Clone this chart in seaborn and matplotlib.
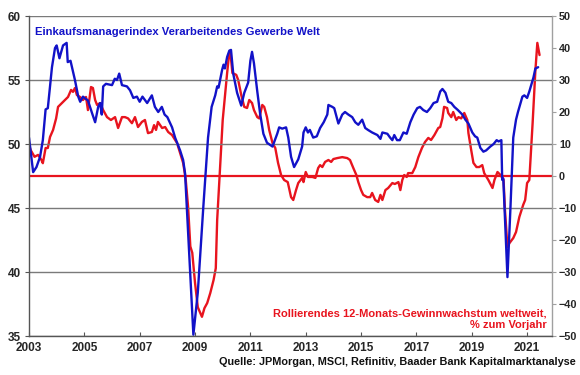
import matplotlib
matplotlib.use("Agg")
import matplotlib.pyplot as plt
import seaborn as sns
import pandas as pd

# --- data -------------------------------------------------------------------
pmi_years = [2003.00, 2003.15, 2003.27, 2003.40, 2003.50, 2003.60, 2003.68, 2003.83, 2003.94, 2004.00,
             2004.10, 2004.23, 2004.36, 2004.40, 2004.50, 2004.66, 2004.78, 2004.85, 2004.95, 2005.13,
             2005.28, 2005.39, 2005.50, 2005.57, 2005.63, 2005.68, 2005.78, 2006.00, 2006.10, 2006.18,
             2006.26, 2006.36, 2006.54, 2006.65, 2006.77, 2006.90, 2007.00, 2007.10, 2007.27, 2007.44,
             2007.55, 2007.67, 2007.80, 2007.90, 2008.00, 2008.17, 2008.28, 2008.46, 2008.57, 2008.64,
             2008.94, 2009.10, 2009.30, 2009.47, 2009.60, 2009.73, 2009.80, 2009.85, 2009.98, 2010.03,
             2010.08, 2010.16, 2010.24, 2010.30, 2010.38, 2010.52, 2010.67, 2010.78, 2010.92, 2011.00,
             2011.06, 2011.13, 2011.25, 2011.35, 2011.47, 2011.60, 2011.80, 2011.97, 2012.04, 2012.15,
             2012.29, 2012.37, 2012.47, 2012.58, 2012.73, 2012.87, 2012.92, 2013.00, 2013.08, 2013.15,
             2013.27, 2013.40, 2013.52, 2013.65, 2013.78, 2013.82, 2013.96, 2014.03, 2014.18, 2014.32,
             2014.42, 2014.54, 2014.68, 2014.79, 2014.90, 2015.04, 2015.15, 2015.25, 2015.40, 2015.59,
             2015.70, 2015.77, 2015.95, 2016.05, 2016.13, 2016.20, 2016.30, 2016.40, 2016.53, 2016.65,
             2016.78, 2016.90, 2017.03, 2017.13, 2017.25, 2017.38, 2017.50, 2017.62, 2017.75, 2017.86,
             2017.94, 2018.05, 2018.15, 2018.26, 2018.37, 2018.50, 2018.66, 2018.77, 2018.88, 2019.02,
             2019.12, 2019.20, 2019.31, 2019.42, 2019.52, 2019.67, 2019.79, 2019.90, 2019.97, 2020.07,
             2020.10, 2020.14, 2020.29, 2020.40, 2020.50, 2020.60, 2020.67, 2020.83, 2020.90, 2021.00,
             2021.08, 2021.23, 2021.30, 2021.40]
pmi_values = [50.5, 47.8, 48.2, 49.0, 50.3, 52.7, 52.8, 56.0, 57.5, 57.7,
              56.7, 57.7, 57.9, 56.4, 56.5, 55.0, 53.7, 53.3, 53.7, 53.4,
              52.4, 51.7, 52.9, 53.2, 52.3, 54.5, 54.7, 54.6, 55.1, 55.0,
              55.5, 54.6, 54.5, 54.2, 53.6, 53.7, 53.3, 53.7, 53.2, 53.8,
              52.9, 52.5, 52.9, 52.3, 52.1, 51.3, 50.5, 49.5, 48.75, 47.7,
              35.1, 38.4, 45.1, 50.5, 52.9, 53.8, 54.5, 54.4, 55.8, 56.2,
              55.9, 56.8, 57.3, 57.35, 55.5, 54.0, 53.0, 54.0, 54.8, 56.5,
              57.2, 56.3, 54.1, 52.4, 50.8, 50.1, 49.8, 50.8, 51.3, 51.2,
              51.3, 50.5, 49.0, 48.2, 48.8, 49.8, 50.9, 51.3, 50.9, 51.1,
              50.5, 50.6, 51.25, 51.7, 52.3, 53.05, 52.9, 52.8, 51.6, 52.3,
              52.5, 52.3, 52.1, 51.7, 51.5, 51.9, 51.25, 51.1, 50.9, 50.7,
              50.4, 50.9, 50.8, 50.5, 50.3, 50.7, 50.3, 50.3, 50.9, 50.8,
              51.7, 52.3, 52.8, 52.9, 52.65, 52.5, 52.8, 53.2, 53.3, 54.1,
              54.3, 54.0, 53.3, 53.2, 52.9, 52.65, 52.3, 51.9, 51.6, 50.9,
              50.6, 50.5, 49.7, 49.4, 49.5, 49.8, 50.0, 50.3, 50.2, 50.3,
              47.2, 47.3, 39.6, 45.1, 50.5, 51.9, 52.5, 53.7, 53.8, 53.6,
              54.1, 55.2, 55.9, 56.0]

eps_years = [2003.00, 2003.06, 2003.20, 2003.33, 2003.45, 2003.50, 2003.60, 2003.68, 2003.76, 2003.87,
             2003.98, 2004.05, 2004.19, 2004.30, 2004.41, 2004.52, 2004.59, 2004.66, 2004.73, 2004.84,
             2004.95, 2005.06, 2005.13, 2005.24, 2005.31, 2005.39, 2005.46, 2005.57, 2005.68, 2005.82,
             2005.96, 2006.11, 2006.22, 2006.36, 2006.47, 2006.58, 2006.72, 2006.83, 2006.94, 2007.08,
             2007.19, 2007.30, 2007.44, 2007.52, 2007.59, 2007.66, 2007.81, 2007.92, 2008.03, 2008.17,
             2008.35, 2008.46, 2008.57, 2008.66, 2008.75, 2008.83, 2008.90, 2009.00, 2009.10, 2009.25,
             2009.34, 2009.44, 2009.55, 2009.67, 2009.75, 2009.80, 2009.90, 2010.00, 2010.16, 2010.24,
             2010.28, 2010.35, 2010.49, 2010.56, 2010.67, 2010.78, 2010.88, 2010.96, 2011.06, 2011.13,
             2011.25, 2011.32, 2011.43, 2011.50, 2011.60, 2011.68, 2011.80, 2011.90, 2012.00, 2012.11,
             2012.22, 2012.35, 2012.47, 2012.55, 2012.65, 2012.73, 2012.87, 2012.92, 2013.00, 2013.08,
             2013.24, 2013.35, 2013.45, 2013.52, 2013.60, 2013.70, 2013.82, 2013.92, 2014.00, 2014.14,
             2014.32, 2014.50, 2014.60, 2014.72, 2014.83, 2014.90, 2015.00, 2015.08, 2015.22, 2015.33,
             2015.40, 2015.51, 2015.62, 2015.70, 2015.77, 2015.88, 2015.98, 2016.13, 2016.22, 2016.35,
             2016.42, 2016.49, 2016.56, 2016.65, 2016.70, 2016.85, 2016.96, 2017.07, 2017.20, 2017.31,
             2017.43, 2017.53, 2017.65, 2017.79, 2017.86, 2017.94, 2018.00, 2018.11, 2018.15, 2018.26,
             2018.33, 2018.44, 2018.52, 2018.62, 2018.73, 2018.84, 2018.88, 2018.98, 2019.06, 2019.17,
             2019.27, 2019.38, 2019.45, 2019.60, 2019.75, 2019.82, 2019.93, 2020.04, 2020.15, 2020.20,
             2020.29, 2020.36, 2020.50, 2020.60, 2020.72, 2020.86, 2020.93, 2021.00, 2021.08, 2021.20,
             2021.30, 2021.37, 2021.45]
eps_values = [9.7, 8.1, 6.0, 6.6, 5.0, 4.0, 8.75, 8.75, 12.2, 14.4,
              18.0, 21.6, 22.8, 23.75, 24.7, 26.9, 26.3, 27.5, 25.3, 24.7,
              23.75, 24.7, 20.6, 27.8, 27.5, 23.75, 22.2, 22.8, 20.6, 18.4,
              17.5, 18.4, 15.0, 18.4, 18.4, 18.0, 16.5, 18.4, 15.3, 16.9,
              17.5, 13.4, 13.75, 15.9, 14.4, 16.9, 15.0, 15.3, 13.75, 12.8,
              10.3, 7.2, 4.1, -0.8, -9.7, -22.0, -24.0, -33.4, -41.0, -44.0,
              -41.3, -39.7, -36.6, -32.5, -28.8, -13.75, 1.9, 17.5, 32.2, 38.75,
              38.4, 32.2, 31.6, 30.0, 25.3, 21.6, 21.25, 23.75, 22.8, 20.6,
              18.4, 18.0, 22.2, 21.6, 18.4, 14.4, 10.3, 8.75, 4.1, 0.3,
              -1.25, -1.9, -6.6, -7.5, -4.4, -2.2, -0.6, -1.9, 1.25, -0.3,
              -0.3, -0.6, 2.5, 3.4, 2.8, 4.4, 5.0, 4.4, 5.3, 5.6,
              5.9, 5.6, 5.0, 2.5, 0.3, -1.9, -4.4, -5.9, -6.6, -6.6,
              -5.3, -7.5, -8.1, -5.9, -7.5, -4.4, -3.75, -2.2, -2.5, -1.9,
              -4.4, -1.25, 0.3, -0.3, 0.9, 0.9, 2.8, 5.9, 8.75, 10.6,
              11.9, 11.25, 12.8, 15.0, 15.3, 18.0, 21.6, 21.25, 19.7, 18.4,
              20.0, 17.5, 18.4, 18.0, 19.7, 17.5, 13.4, 8.1, 4.1, 2.8,
              2.8, 3.4, 0.9, -1.25, -3.75, -1.25, 1.25, 0.3, -1.25, -10.6,
              -22.2, -21.0, -19.4, -17.5, -12.8, -9.0, -7.5, -2.2, -1.25, 16.6,
              33.0, 41.6, 37.8]

year_ticks = [2003, 2005, 2007, 2009, 2011, 2013, 2015, 2017, 2019, 2021]
left_ticks = [35, 40, 45, 50, 55, 60]
right_ticks = [-50, -40, -30, -20, -10, 0, 10, 20, 30, 40, 50]

title_text = "Einkaufsmanagerindex Verarbeitendes Gewerbe Welt"
eps_text = "Rollierendes 12-Monats-Gewinnwachstum weltweit,\n% zum Vorjahr"
source_text = "Quelle: JPMorgan, MSCI, Refinitiv, Baader Bank Kapitalmarktanalyse"

# --- styling -----------------------------------------------------------------
sns.set_style("white")
plt.rcParams["font.family"] = ["Liberation Sans", "DejaVu Sans"]
plt.rcParams["font.weight"] = "bold"

BLUE = "#1212c8"
RED = "#e8141e"
GRID = "#7a7a7a"

pmi_df = pd.DataFrame({"year": pmi_years, "pmi": pmi_values})
eps_df = pd.DataFrame({"year": eps_years, "eps": eps_values})

fig = plt.figure(figsize=(5.8, 3.75), dpi=100)
ax = fig.add_axes([29 / 580, 39 / 375, (552 - 29) / 580, (336 - 16) / 375])
ax2 = ax.twinx()

# left axis: PMI
ax.set_ylim(35, 60)
ax.set_xlim(2003, 2021.9)
ax.set_yticks(left_ticks)
ax.set_xticks(year_ticks)
ax.yaxis.grid(True, color=GRID, lw=1.0)
ax.set_axisbelow(True)

# right axis: earnings growth
ax2.set_ylim(-50, 50)
ax2.set_yticks(right_ticks)
ax2.axhline(0, color=RED, lw=1.6, zorder=1)
sns.lineplot(data=eps_df, x="year", y="eps", ax=ax2, color=RED, lw=1.7,
             estimator=None, sort=False, zorder=2)
sns.lineplot(data=pmi_df, x="year", y="pmi", ax=ax, color=BLUE, lw=1.7,
             estimator=None, sort=False)
# put the PMI line on top of the right axis content
ax.set_zorder(ax2.get_zorder() + 1)
ax.patch.set_visible(False)

for a in (ax, ax2):
    a.set_xlabel("")
    a.set_ylabel("")
    for s in a.spines.values():
        s.set_visible(False)

ax.spines["left"].set_visible(True)
ax.spines["left"].set_color("#555555")
ax.spines["left"].set_linewidth(1.0)
ax.spines["bottom"].set_visible(True)
ax.spines["bottom"].set_color("#555555")
ax.spines["bottom"].set_linewidth(1.0)
ax2.spines["right"].set_visible(True)
ax2.spines["right"].set_color("#a0a0a0")
ax2.spines["right"].set_linewidth(1.0)

ax.tick_params(axis="y", left=True, length=3, color="#555555", labelsize=8.5, pad=3)
ax.tick_params(axis="x", bottom=True, direction="in", length=3, color="#555555",
               labelsize=8.5, pad=4)
ax2.tick_params(axis="y", right=True, length=3, color="#a0a0a0", labelsize=7.8, pad=2)
for lab in ax.get_xticklabels() + ax.get_yticklabels() + ax2.get_yticklabels():
    lab.set_fontweight("bold")

ax.text(0.012, 0.965, title_text, transform=ax.transAxes, color=BLUE,
        fontsize=8.1, fontweight="bold", ha="left", va="top")
ax.text(0.99, 0.02, eps_text, transform=ax.transAxes, color=RED,
        fontsize=8.0, fontweight="bold", ha="right", va="bottom", linespacing=1.15,
        multialignment="right")
fig.text(576 / 580, 1 - 362 / 375, source_text, color="#111111", fontsize=7.85,
         fontweight="bold", ha="right", va="center")

fig.savefig("out.png", dpi=100)
